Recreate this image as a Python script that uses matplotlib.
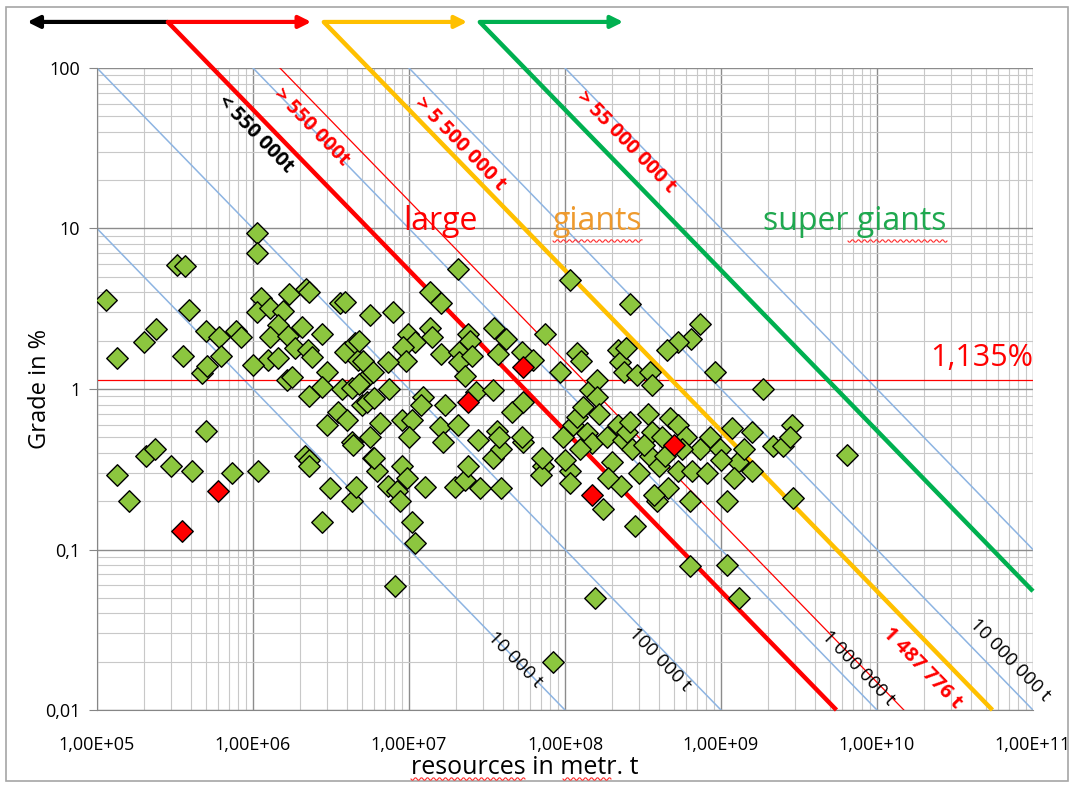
import numpy as np
import matplotlib.pyplot as plt
import matplotlib.patches as mpatches

plt.rcParams['font.family'] = ['Open Sans', 'DejaVu Sans']

# deposits: resources (t) and grade (%)
green_pts = np.array([
    [1.15e5, 3.6], [1.35e5, 1.55], [1.35e5, 0.29], [1.6e5, 0.2], [2.0e5, 1.95],
    [2.4e5, 2.35], [2.05e5, 0.38], [2.35e5, 0.42], [3.0e5, 0.33], [3.25e5, 5.9],
    [3.65e5, 5.8], [3.55e5, 1.6], [3.9e5, 3.1], [4.05e5, 0.31], [5.0e5, 2.3],
    [4.7e5, 1.25], [5.1e5, 1.4], [5.0e5, 0.55], [6.1e5, 2.1], [6.2e5, 1.6],
    [7.3e5, 0.3], [7.8e5, 2.3], [8.4e5, 2.1], [1.06e6, 9.4], [1.06e6, 7.0],
    [1.12e6, 3.7], [1.7e6, 3.9], [2.2e6, 4.2], [2.3e6, 4.0], [3.6e6, 3.45],
    [3.9e6, 3.5], [1.06e6, 3.0], [1.28e6, 3.2], [1.55e6, 3.05], [1.45e6, 2.5],
    [2.05e6, 2.45], [2.75e6, 2.2], [1.28e6, 2.1], [1.67e6, 2.15], [1.85e6, 1.8],
    [2.25e6, 1.75], [2.4e6, 1.58], [3.0e6, 1.28], [3.9e6, 1.7], [4.5e6, 1.93],
    [4.7e6, 1.52], [3.7e6, 1.0], [4.3e6, 1.02], [5.0e6, 1.1], [5.0e6, 0.8],
    [2.75e6, 1.03], [2.3e6, 0.9], [3.5e6, 0.72], [3.0e6, 0.6], [4.3e6, 0.47],
    [2.15e6, 0.38], [2.3e6, 0.36], [1.65e6, 1.14], [1.78e6, 1.19], [1.25e6, 1.52],
    [1.45e6, 1.57], [1.0e6, 1.42], [1.07e6, 0.31], [4.0e6, 0.64], [2.3e6, 0.33],
    [3.1e6, 0.24], [2.75e6, 0.148], [4.3e6, 0.2], [4.6e6, 0.245], [4.4e6, 0.45],
    [5.9e6, 0.37], [6.2e6, 0.31], [9.0e6, 0.33], [9.7e6, 0.28], [7.3e6, 0.25],
    [8.4e6, 0.23], [8.7e6, 0.2], [1.27e7, 0.245], [1.04e7, 0.148], [1.1e7, 0.11],
    [8.1e6, 0.059], [1.97e7, 0.245], [2.3e7, 0.27], [2.4e7, 0.33], [2.85e7, 0.24],
    [3.45e7, 0.37], [3.9e7, 0.42], [3.9e7, 0.24], [5.4e7, 0.47], [7.2e7, 0.33],
    [7.0e7, 0.29], [1.08e8, 0.31], [1.08e8, 0.26], [1.75e8, 0.18], [1.55e8, 0.05],
    [8.4e7, 0.02], [2.05e7, 5.6], [1.08e8, 4.75], [1.36e7, 4.0], [1.6e7, 3.45],
    [5.6e6, 2.9], [7.9e6, 3.0], [9.9e6, 2.2], [1.36e7, 2.4], [1.4e7, 2.1],
    [1.1e7, 1.97], [9.2e6, 1.83], [9.6e6, 1.5], [1.6e7, 1.65], [2.1e7, 1.7],
    [2.4e7, 2.2], [2.45e7, 1.98], [3.5e7, 2.4], [4.2e7, 2.05], [3.7e7, 1.65],
    [5.3e7, 1.7], [6.2e7, 1.52], [7.5e7, 2.2], [9.3e7, 1.27], [1.2e8, 1.68],
    [1.27e8, 1.5], [2.2e8, 1.75], [2.25e8, 1.48], [2.4e8, 1.28], [5.1e6, 1.5],
    [5.85e6, 1.28], [7.3e6, 1.47], [7.5e6, 1.0], [5.4e6, 0.83], [6.0e6, 0.88],
    [6.5e6, 0.61], [5.6e6, 0.5], [9.0e6, 0.64], [1.05e7, 0.64], [1.0e7, 0.5],
    [1.23e7, 0.89], [1.2e7, 0.8], [1.7e7, 0.8], [1.57e7, 0.58], [2.05e7, 0.6],
    [1.65e7, 0.47], [2.1e7, 1.48], [2.3e7, 1.2], [2.7e7, 0.96], [3.45e7, 0.98],
    [4.6e7, 0.72], [5.4e7, 0.83], [3.65e7, 0.55], [3.8e7, 0.5], [2.75e7, 0.48],
    [5.3e7, 0.5], [7.1e7, 0.37], [9.7e7, 0.5], [1.13e8, 0.6], [1.2e8, 0.67],
    [1.3e8, 0.77], [1.45e8, 0.99], [1.6e8, 1.13], [1.39e8, 0.53], [1.5e8, 0.46],
    [1.25e8, 0.42], [1.85e8, 0.5], [2.2e8, 0.6], [2.35e8, 0.48], [1.6e8, 0.89],
    [1.65e8, 0.7], [6.0e6, 0.37], [4.8e6, 1.08], [4.8e6, 2.0], [2.55e7, 1.6],
    [2.6e8, 3.4], [7.3e8, 2.55], [6.4e8, 2.05], [5.3e8, 1.95], [4.5e8, 1.75],
    [2.45e8, 1.8], [9.2e8, 1.27], [1.85e9, 1.0], [2.9e8, 1.22], [3.5e8, 1.27],
    [3.6e8, 1.06], [3.4e8, 0.7], [4.7e8, 0.66], [5.3e8, 0.6], [2.5e8, 0.54],
    [3.6e8, 0.54], [2.7e8, 0.42], [3.5e8, 0.38], [4.0e8, 0.33], [5.3e8, 0.31],
    [6.5e8, 0.31], [7.3e8, 0.42], [8.5e8, 0.5], [9.8e8, 0.42], [1.18e9, 0.57],
    [1.28e9, 0.35], [1.58e9, 0.54], [1.58e9, 0.31], [1.22e9, 0.28], [8.1e8, 0.3],
    [2.15e9, 0.44], [2.5e9, 0.44], [2.85e9, 0.6], [2.75e9, 0.5], [6.4e9, 0.39],
    [2.9e9, 0.21], [2.8e8, 0.14], [3.9e8, 0.2], [6.3e8, 0.079], [6.3e8, 0.2],
    [1.1e9, 0.2], [1.1e9, 0.08], [1.3e9, 0.05], [2.0e8, 0.35], [3.0e8, 0.3],
    [4.4e8, 0.38], [2.3e8, 0.25], [3.2e8, 0.45], [4.2e8, 0.5], [6.0e8, 0.5],
    [5.6e8, 0.42], [1.9e8, 0.28], [2.6e8, 0.62], [1.0e9, 0.36], [4.6e8, 0.24],
    [3.7e8, 0.22], [1.4e9, 0.42], [1.0e8, 0.36],
])
red_pts = np.array([
    [3.5e5, 0.13], [6.0e5, 0.23], [2.4e7, 0.83], [5.4e7, 1.37], [1.5e8, 0.22], [5.0e8, 0.45],
])

# contained metal (t) lines
blue_tonnes = [1e4, 1e5, 1e6, 1e7, 1e8]
class_tonnes = [5.5e5, 5.5e6, 5.5e7]
class_colors = ['#FF0000', '#FFC000', '#00B050']
special_tonnes = 1487776
grade_line = 1.135

x_ticks = [1e5, 1e6, 1e7, 1e8, 1e9, 1e10, 1e11]
x_labels = ['1,00E+05', '1,00E+06', '1,00E+07', '1,00E+08', '1,00E+09', '1,00E+10', '1,00E+11']
y_ticks = [0.01, 0.1, 1, 10, 100]
y_labels = ['0,01', '0,1', '1', '10', '100']

fig = plt.figure(figsize=(10.74, 7.85), dpi=100)
ax = fig.add_axes([0.0903, 0.0955, 0.8715, 0.8179])
ax.set_xscale('log')
ax.set_yscale('log')
ax.set_xlim(1e5, 1e11)
ax.set_ylim(0.01, 100)

ax.grid(True, which='major', color='#8C8C8C', lw=1.0)
ax.grid(True, which='minor', color='#C8C8C8', lw=0.8)
ax.set_axisbelow(True)
for side in ['top', 'right']:
    ax.spines[side].set_visible(False)
for side in ['left', 'bottom']:
    ax.spines[side].set_color('#868686')

ax.set_xticks(x_ticks)
ax.set_xticklabels(x_labels)
ax.set_yticks(y_ticks)
ax.set_yticklabels(y_labels)
ax.tick_params(axis='x', which='both', length=0, pad=19, labelsize=13)
ax.tick_params(axis='y', which='major', length=6, color='#868686', pad=6, labelsize=13)
ax.tick_params(axis='y', which='minor', length=0)
ax.set_xlabel('resources in metr. t', fontsize=18)
ax.xaxis.set_label_coords(0.457, -0.1)
ax.xaxis.label.set_va('baseline')
ax.set_ylabel('Grade in %', fontsize=17)
ax.yaxis.set_label_coords(-0.048, 0.5)


def tonnes_line(t, x0, x1):
    xs = np.array([x0, x1])
    return xs, t * 100 / xs


for t in blue_tonnes:
    xs, ys = tonnes_line(t, max(1e5, t), min(1e11, t * 1e4))
    ax.plot(xs, ys, color='#8DB4E2', lw=1.1, zorder=2)

xs, ys = tonnes_line(special_tonnes, special_tonnes, special_tonnes * 1e4)
ax.plot(xs, ys, color='#FF0000', lw=0.9, zorder=2)
ax.axhline(grade_line, color='#FF0000', lw=0.9, zorder=2)

# size classes run up to the arrows above the plot
y_top = 193.6
tops = []
for t, c in zip(class_tonnes, class_colors):
    x_start = t * 100 / y_top
    tops.append(x_start)
    xs, ys = tonnes_line(t, x_start, min(1e11, t * 1e4))
    ax.plot(xs, ys, color=c, lw=3.2, clip_on=False, zorder=4, solid_capstyle='butt')

arrow_kw = dict(arrowstyle='-|>', lw=3, mutation_scale=18, shrinkA=0, shrinkB=0)
ax.annotate('', xy=(tops[0] / 10**0.9, y_top), xytext=(tops[0], y_top),
            arrowprops=dict(color='black', **arrow_kw), annotation_clip=False)
for x0, c in zip(tops, class_colors):
    ax.annotate('', xy=(x0 * 10**0.92, y_top), xytext=(x0, y_top),
                arrowprops=dict(color=c, **arrow_kw), annotation_clip=False)

ax.scatter(green_pts[:, 0], green_pts[:, 1], marker='D', s=120, color='#8CC63F',
           edgecolor='black', linewidth=1.0, zorder=5)
ax.scatter(red_pts[:, 0], red_pts[:, 1], marker='D', s=120, color='#FF0000',
           edgecolor='black', linewidth=1.0, zorder=6)

# angle of a constant-tonnage line on screen
p1 = ax.transData.transform((1e6, 1))
p2 = ax.transData.transform((1e7, 0.1))
ang = np.degrees(np.arctan2(p2[1] - p1[1], p2[0] - p1[0]))

rot_kw = dict(rotation=ang, ha='center', va='center', rotation_mode='anchor', zorder=7)
ax.text(1.04e6, 38.8, '< 550 000t', color='black', fontsize=14.5, fontweight='bold', **rot_kw)
ax.text(2.35e6, 42.9, '> 550 000t', color='#FF0000', fontsize=14.5, fontweight='bold', **rot_kw)
ax.text(2.12e7, 33.6, '> 5 500 000 t', color='#FF0000', fontsize=14.5, fontweight='bold', **rot_kw)
ax.text(2.46e8, 34.6, '> 55 000 000 t', color='#FF0000', fontsize=14.5, fontweight='bold', **rot_kw)

ax.text(4.8e7, 0.0205, '10 000 t', color='black', fontsize=13.5, **rot_kw)
ax.text(4.06e8, 0.0205, '100 000 t', color='black', fontsize=13.5, **rot_kw)
ax.text(7.55e9, 0.0183, '1 000 000 t', color='black', fontsize=13.5, **rot_kw)
ax.text(1.94e10, 0.0183, '1 487 776 t', color='#FF0000', fontsize=14.5, fontweight='bold', **rot_kw)
ax.text(7.1e10, 0.0205, '10 000 000 t', color='black', fontsize=13.5, **rot_kw)

ax.text(1.58e7, 11.0, 'large', color='#FF0000', fontsize=23, ha='center', va='center', zorder=7)
ax.text(1.6e8, 11.0, 'giants', color='#EE9A2E', fontsize=23, ha='center', va='center', zorder=7)
ax.text(7.2e9, 11.0, 'super giants', color='#1FA84F', fontsize=23, ha='center', va='center', zorder=7)
ax.text(1e11, 1.56, '1,135%', color='#FF0000', fontsize=22, ha='right', va='center', zorder=7)


# spell-check style wavy underline, given in pixel positions
def wavy(x0, x1, y):
    xs = np.arange(x0, x1, 1.0)
    ys = y + 1.3 * np.sin((xs - x0) * np.pi / 3)
    fig.add_artist(plt.Line2D(xs / 1074, 1 - ys / 785, transform=fig.transFigure,
                              color='#FF3030', lw=0.8))


wavy(553, 643, 241)
wavy(848, 948, 241)
wavy(411, 526, 779)
wavy(563, 612, 779)

fig.patches.append(mpatches.Rectangle((0.006, 0.005), 0.988, 0.986, transform=fig.transFigure,
                                      fill=False, edgecolor='#A6A6A6', lw=1.2))

fig.savefig('out.png', dpi=100)
